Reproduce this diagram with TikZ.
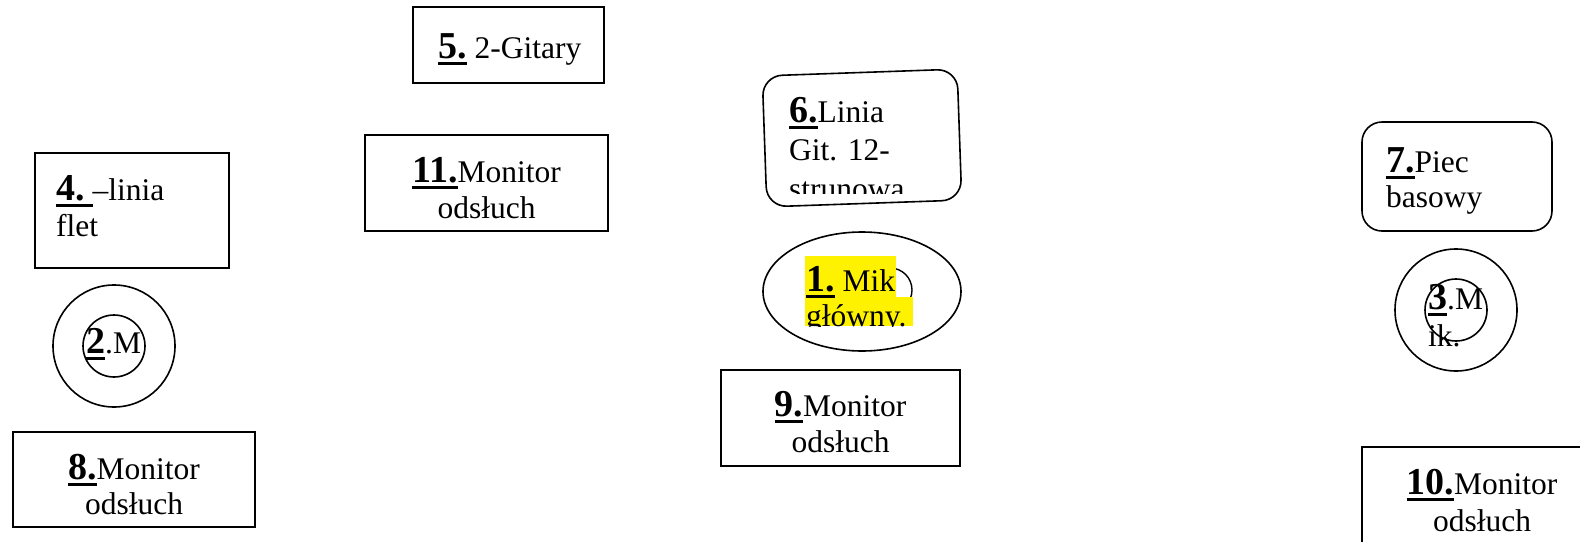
\documentclass[tikz,border=0pt]{standalone}
\usepackage{fontspec}
\setmainfont{Liberation Serif}
\usetikzlibrary{shapes.geometric}
\newcommand\nb[1]{{\fontsize{38}{40}\selectfont\bfseries #1}}
\newcommand\numul[1]{\setbox0\hbox{#1}\rlap{\rule[-7pt]{\wd0}{3.5pt}}\box0\relax}
\begin{document}
\begin{tikzpicture}[x=1pt,y=-1pt,
  frame/.style={draw, line width=1.6pt, inner sep=0pt},
  txt/.style={inner sep=0pt, font=\fontsize{31.5}{34}\selectfont}]
\useasboundingbox (0,0) rectangle (1580,541);
% box 5
\node[frame, minimum width=191pt, minimum height=76pt] (b5) at (508.5,45) {};
\node[txt, anchor=base west] (t5) at (438,58) {\numul{\nb{5.}} 2-Gitary};
% box 11
\node[frame, minimum width=243pt, minimum height=96pt] (b11) at (486.5,183) {};
\node[txt, anchor=base] (t11a) at (486.5,182) {\numul{\nb{11.}}Monitor};
\node[txt, anchor=base] (t11b) at (486.5,218) {odsłuch};
% box 4
\node[frame, minimum width=194pt, minimum height=115pt] (b4) at (132,210.5) {};
\node[txt, anchor=base west] (t4a) at (56,200) {\numul{\nb{4.}\ }–linia};
\node[txt, anchor=base west] (t4b) at (56,236) {flet};
% circle 2
\node[frame, circle, minimum size=122pt] (c2o) at (114,346) {};
\node[frame, circle, minimum size=62pt] (c2i) at (114,346) {};
\node[txt, anchor=base west] (t2) at (86,353) {\numul{\nb{2}}.M};
% box 8
\node[frame, minimum width=242pt, minimum height=95pt] (b8) at (134,479.5) {};
\node[txt, anchor=base] (t8a) at (134,479) {\numul{\nb{8.}}Monitor};
\node[txt, anchor=base] (t8b) at (134,514) {odsłuch};
% box 6 (tilted)
\node[frame, rounded corners=20pt, rotate=2, minimum width=195pt, minimum height=131pt] (b6) at (862,138) {};
\begin{scope}
\clip (760,80) rectangle (950,193);
\node[txt, anchor=base west] (t6a) at (789,122) {\numul{\nb{6.}}Linia};
\node[txt, anchor=base west] (t6b) at (789,160) {Git. 12-};
\node[txt, anchor=base west] (t6c) at (789,199) {strunowa};
\end{scope}
% ellipse 1
\node[frame, ellipse, minimum width=198pt, minimum height=119pt] (e1) at (862,291.5) {};
\node[draw, line width=1.4pt, circle, inner sep=0pt, minimum size=44pt] (e1i) at (890,290) {};
\fill[yellow] (805,256) rectangle (896,297);
\fill[yellow] (805,297) rectangle (913,326);
\begin{scope}
\clip (800,250) rectangle (920,326);
\node[txt, anchor=base west] (t1a) at (806,291) {\numul{\nb{1.}} Mik};
\node[txt, anchor=base west] (t1b) at (806,326) {główny.};
\end{scope}
% box 9
\node[frame, minimum width=239pt, minimum height=96pt] (b9) at (840.5,418) {};
\node[txt, anchor=base] (t9a) at (840.5,416) {\numul{\nb{9.}}Monitor};
\node[txt, anchor=base] (t9b) at (840.5,452) {odsłuch};
% box 7
\node[frame, rounded corners=20pt, minimum width=190pt, minimum height=109pt] (b7) at (1457,176.5) {};
\node[txt, anchor=base west] (t7a) at (1386,172) {\numul{\nb{7.}}Piec};
\node[txt, anchor=base west] (t7b) at (1386,207) {basowy};
% circle 3
\node[frame, circle, minimum size=122pt] (c3o) at (1456,310) {};
\node[frame, circle, minimum size=62pt] (c3i) at (1456,310) {};
\begin{scope}
\clip (1400,280) rectangle (1500,346);
\node[txt, anchor=base west] (t3a) at (1428,309) {\numul{\nb{3}}.M};
\node[txt, anchor=base west] (t3b) at (1428,346) {ik.};
\end{scope}
% box 10
\node[frame, minimum width=241pt, minimum height=120pt] (b10) at (1482.5,507) {};
\node[txt, anchor=base] (t10a) at (1482,494) {\numul{\nb{10.}}Monitor};
\node[txt, anchor=base] (t10b) at (1482,531) {odsłuch};
\end{tikzpicture}
\end{document}
